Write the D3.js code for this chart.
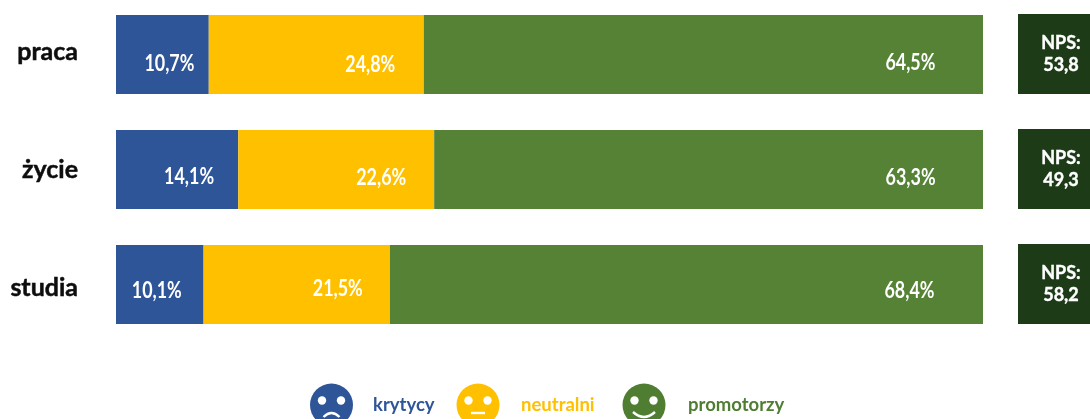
<!DOCTYPE html>
<html>
<head>
<meta charset="utf-8">
<script src="https://cdn.jsdelivr.net/npm/d3@7"></script>
<style>
    html, body { margin: 0; padding: 0; background: #fff; overflow: hidden; }
    text { font-family: Lato, "Noto Sans", sans-serif; font-weight: 700; }
</style>
</head>
<body>
<div id="chart"></div>
<script>
var categories = ["praca", "życie", "studia"];
var groups = ["krytycy", "neutralni", "promotorzy"];
var krytycy = [10.7, 14.1, 10.1];
var neutralni = [24.8, 22.6, 21.5];
var promotorzy = [64.5, 63.3, 68.4];
var nps = [53.8, 49.3, 58.2];

var colors = ["#2f5597", "#ffc000", "#548235"];
var legendColors = ["#2f5597", "#ffc000", "#4f7d31"];

var width = 1090, height = 419;
var comma = function(v, digits) { return v.toFixed(digits).replace(".", ","); };

var svg = d3.select("#chart").append("svg")
    .attr("width", width)
    .attr("height", height);

var defs = svg.append("defs");
defs.append("filter").attr("id", "soft")
    .append("feGaussianBlur").attr("stdDeviation", 0.45);

var vis = svg.append("g").attr("filter", "url(#soft)");

var x = d3.scaleLinear().domain([0, 100]).range([116, 983]);
var y = d3.scaleBand().domain(categories).range([15, 324]).paddingInner(0.313);

var rows = categories.map(function(c, i) {
    return { name: c, krytycy: krytycy[i], neutralni: neutralni[i], promotorzy: promotorzy[i], nps: nps[i] };
});
var stacked = d3.stack().keys(groups)(rows);

// the labels in the original sit off-centre, so each one gets a nudge from the segment middle
var labelNudge = [
    [[7, 16], [54, 17], [207, 15]],
    [[12, 14], [45, 15], [202, 15]],
    [[-3, 14], [41, 12], [223, 14]]
];

var layer = vis.selectAll("g.layer").data(stacked).enter().append("g")
    .attr("class", "layer");

layer.selectAll("rect").data(function(d) { return d; }).enter().append("rect")
    .attr("x", function(d) { return x(d[0]); })
    .attr("width", function(d) { return x(d[1]) - x(d[0]); })
    .attr("y", function(d) { return y(d.data.name); })
    .attr("height", y.bandwidth())
    .attr("fill", function(d, i, n) { return colors[groups.indexOf(d3.select(n[i].parentNode).datum().key)]; });

layer.each(function(s, k) {
    d3.select(this).selectAll("text").data(s).enter().append("text")
        .attr("x", function(d, i) { return (x(d[0]) + x(d[1])) / 2 + labelNudge[i][k][0]; })
        .attr("y", function(d, i) { return y(d.data.name) + y.bandwidth() / 2 + labelNudge[i][k][1]; })
        .attr("text-anchor", "middle")
        .attr("font-size", 22)
        .attr("textLength", 50)
        .attr("lengthAdjust", "spacingAndGlyphs")
        .attr("fill", "#fff")
        .text(function(d) { return comma(d[1] - d[0], 1) + "%"; });
});

// category names
var nameNudge = [5, 8, 12];
vis.selectAll("text.cat").data(categories).enter().append("text")
    .attr("class", "cat")
    .attr("x", 78)
    .attr("y", function(d, i) { return y(d) + y.bandwidth() / 2 + nameNudge[i]; })
    .attr("text-anchor", "end")
    .attr("font-size", 25)
    .attr("fill", "#111")
    .attr("stroke", "#111")
    .attr("stroke-width", 0.5)
    .text(function(d) { return d; });

// NPS boxes
var box = vis.selectAll("g.nps").data(rows).enter().append("g")
    .attr("class", "nps")
    .attr("transform", function(d) { return "translate(1018," + y(d.name) + ")"; });
box.append("rect")
    .attr("y", -1)
    .attr("width", 72)
    .attr("height", y.bandwidth() + 1)
    .attr("fill", "#1a3a16");
box.append("text")
    .attr("x", 43).attr("y", 34)
    .attr("text-anchor", "middle").attr("font-size", 18).attr("fill", "#fff")
    .attr("stroke", "#fff").attr("stroke-width", 0.4)
    .text("NPS:");
box.append("text")
    .attr("x", 43).attr("y", 56)
    .attr("text-anchor", "middle").attr("font-size", 18).attr("fill", "#fff")
    .attr("stroke", "#fff").attr("stroke-width", 0.4)
    .text(function(d) { return comma(d.nps, 1); });

// legend with faces
var legendFace = d3.scaleOrdinal().domain(groups).range([331.5, 478, 644]);
var legendText = d3.scaleOrdinal().domain(groups).range([373, 521, 688]);
var faceY = 405, faceR = 21.5;

var legend = vis.selectAll("g.legend").data(groups).enter().append("g")
    .attr("class", "legend");

legend.append("circle")
    .attr("cx", legendFace)
    .attr("cy", faceY)
    .attr("r", faceR)
    .attr("fill", function(d, i) { return legendColors[i]; });

legend.each(function(d) {
    var g = d3.select(this), cx = legendFace(d);
    [-9.5, 9.5].forEach(function(dx) {
        g.append("circle").attr("cx", cx + dx).attr("cy", faceY - 4.5).attr("r", 4.2).attr("fill", "#fff");
    });
    var mouth = { krytycy: "M-8,12 Q0,4 8,12", neutralni: "M-7,8 L7,8", promotorzy: "M-11,7 Q0,17 11,7" }[d];
    g.append("path")
        .attr("transform", "translate(" + cx + "," + faceY + ")")
        .attr("d", mouth)
        .attr("fill", "none")
        .attr("stroke", "#fff")
        .attr("stroke-width", 2.4);
});

legend.append("text")
    .attr("x", legendText)
    .attr("y", 411)
    .attr("font-size", 18.5)
    .attr("fill", function(d, i) { return legendColors[i]; })
    .text(function(d) { return d; });
</script>
</body>
</html>
